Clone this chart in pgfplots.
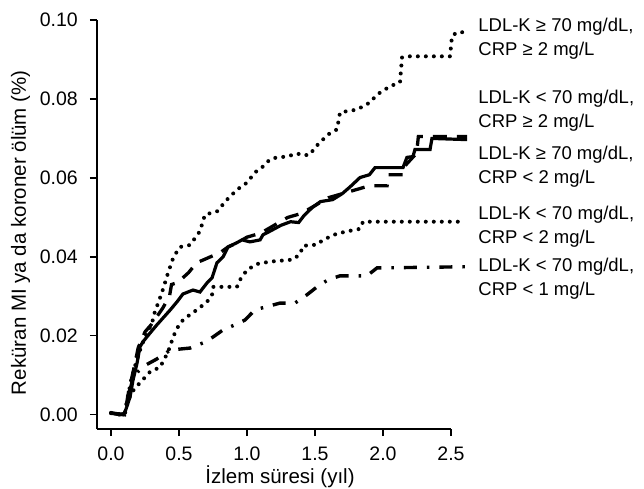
\documentclass[border=0pt]{standalone}
\usepackage{fontspec}
\setmainfont{Liberation Sans}
\usepackage{pgfplots}
\pgfplotsset{compat=1.18}

\begin{document}
\begin{tikzpicture}
\fontsize{18.5bp}{24bp}\selectfont
\path[use as bounding box] (-97bp,-60bp) rectangle (547bp,429bp);
\begin{axis}[
  scale only axis,
  width=354bp, height=409bp,
  xmin=-0.103, xmax=2.5,
  ymin=-0.0036, ymax=0.10,
  clip=false,
  axis x line*=bottom,
  axis y line*=left,
  axis line style={line width=1.3bp},
  every tick/.style={line width=1.3bp, black},
  tick align=outside,
  major tick length=7bp,
  xtick={0,0.5,1,1.5,2,2.5},
  ytick={0,0.02,0.04,0.06,0.08,0.1},
  /pgf/number format/assume math mode=true,
  tick label style={font=\fontsize{19.5bp}{22bp}\selectfont, inner sep=0pt},
  xticklabel style={anchor=north, yshift=-11bp, /pgf/number format/.cd, fixed, fixed zerofill, precision=1},
  yticklabel style={anchor=east, xshift=-12bp, /pgf/number format/.cd, fixed, fixed zerofill, precision=2},
  label style={font=\fontsize{20.5bp}{24bp}\selectfont, inner sep=0pt},
  xlabel={İzlem süresi (yıl)},
  ylabel={Reküran MI ya da koroner ölüm (\%)},
  xlabel style={at={([yshift=-54bp]axis description cs:0.517,0)}, anchor=base},
  ylabel style={at={([xshift=-71bp]axis description cs:0,0.48)}, anchor=base},
  dotline/.style={black, line width=4bp, line cap=round, dash pattern=on 0bp off 8bp},
]
% LDL-K >= 70, CRP >= 2
\addplot[dotline] coordinates {
(0.00,0.0005) (0.07,0.0000) (0.10,0.0002) (0.12,0.004) (0.15,0.009) (0.19,0.014)
(0.23,0.018) (0.27,0.021) (0.30,0.023) (0.32,0.0258) (0.375,0.031) (0.42,0.036)
(0.46,0.0400) (0.507,0.0425) (0.581,0.0430) (0.654,0.0465) (0.691,0.0507)
(0.779,0.0515) (0.853,0.0545) (0.926,0.0570) (1.000,0.0588) (1.059,0.0614)
(1.118,0.0629) (1.169,0.0647) (1.221,0.0652) (1.294,0.0654) (1.368,0.0662)
(1.412,0.0657) (1.463,0.0659) (1.50,0.0677) (1.537,0.0690) (1.596,0.0710)
(1.662,0.0723) (1.684,0.0766) (1.809,0.0773) (1.904,0.0791) (1.956,0.0811)
(2.051,0.0832) (2.125,0.0842) (2.140,0.0905) (2.176,0.0908) (2.493,0.0908)
(2.507,0.0959) (2.544,0.0969) (2.603,0.0969)
};
% LDL-K < 70, CRP >= 2
\addplot[black, line width=3.2bp] coordinates {
(0.007,0.0004) (0.066,0.0000) (0.10,0.0004) (0.14,0.0045) (0.162,0.0088)
(0.191,0.013) (0.213,0.0172) (0.235,0.0185) (0.287,0.0207) (0.338,0.0228)
(0.382,0.0245) (0.434,0.0265) (0.485,0.0286) (0.529,0.0306) (0.603,0.0316)
(0.654,0.0311) (0.706,0.0334) (0.743,0.0347) (0.779,0.0385) (0.824,0.0400)
(0.86,0.0425) (0.926,0.0436) (0.963,0.0443) (1.022,0.0438) (1.096,0.0443)
(1.118,0.0456) (1.169,0.0465) (1.25,0.0480) (1.32,0.0489) (1.38,0.0487)
(1.42,0.0505) (1.48,0.0525) (1.54,0.0540) (1.63,0.0545) (1.70,0.0560)
(1.76,0.0578) (1.831,0.0601) (1.90,0.0608) (1.941,0.0626) (2.147,0.0626)
(2.176,0.0652) (2.22,0.0654) (2.235,0.0672) (2.346,0.0672) (2.36,0.0700)
(2.618,0.0697)
};
% LDL-K >= 70, CRP < 2
\addplot[black, line width=3.3bp, dash pattern=on 14bp off 10bp] coordinates {
(0.00,0.0005) (0.10,0.0000) (0.13,0.006) (0.17,0.012) (0.20,0.017) (0.25,0.021)
(0.30,0.023) (0.38,0.027) (0.43,0.030) (0.445,0.033) (0.49,0.0335) (0.57,0.036)
(0.63,0.0385) (0.73,0.0400) (0.80,0.0410) (0.86,0.0425) (0.93,0.0436)
(1.00,0.0450) (1.10,0.0460) (1.20,0.0480) (1.30,0.0500) (1.40,0.0510)
(1.50,0.0530) (1.60,0.0550) (1.70,0.0560) (1.80,0.0570) (1.90,0.0580)
(2.03,0.0580) (2.04,0.0608) (2.147,0.0608) (2.16,0.0630) (2.24,0.0660)
(2.25,0.0672) (2.26,0.0705) (2.618,0.0705)
};
% LDL-K < 70, CRP < 2
\addplot[dotline] coordinates {
(0.00,0.0004) (0.10,0.0000) (0.13,0.004) (0.16,0.006) (0.21,0.008) (0.29,0.011)
(0.36,0.012) (0.40,0.0146) (0.434,0.0172) (0.456,0.0197) (0.507,0.0233)
(0.559,0.0248) (0.632,0.0266) (0.706,0.0286) (0.743,0.0304) (0.75,0.0324)
(0.926,0.0324) (0.949,0.0342) (1.000,0.0367) (1.074,0.0382) (1.169,0.0388)
(1.338,0.0393) (1.39,0.0407) (1.412,0.0428) (1.515,0.0431) (1.559,0.0443)
(1.662,0.0459) (1.757,0.0466) (1.831,0.0471) (1.853,0.0489) (2.603,0.0489)
};
% LDL-K < 70, CRP < 1
\addplot[black, line width=3.4bp, dash pattern=on 13bp off 10bp on 2.5bp off 10bp] coordinates {
(0.00,0.0004) (0.10,0.0000) (0.13,0.005) (0.16,0.009) (0.20,0.011) (0.25,0.0125)
(0.33,0.014) (0.40,0.0155) (0.434,0.0164) (0.581,0.0169) (0.676,0.0182)
(0.75,0.0197) (0.824,0.0215) (0.926,0.0230) (0.985,0.0240) (1.059,0.0266)
(1.169,0.0276) (1.243,0.0283) (1.353,0.0283) (1.441,0.0304) (1.515,0.0324)
(1.596,0.0342) (1.684,0.0352) (1.882,0.0352) (1.956,0.0372) (2.618,0.0375)
};
\node[anchor=west, align=left, inner sep=0pt] at (axis cs:2.70,0.0953) {LDL-K ≥ 70 mg/dL,\\CRP ≥ 2 mg/L};
\node[anchor=west, align=left, inner sep=0pt] at (axis cs:2.70,0.0770) {LDL-K < 70 mg/dL,\\CRP ≥ 2 mg/L};
\node[anchor=west, align=left, inner sep=0pt] at (axis cs:2.70,0.0628) {LDL-K ≥ 70 mg/dL,\\CRP < 2 mg/L};
\node[anchor=west, align=left, inner sep=0pt] at (axis cs:2.70,0.0477) {LDL-K < 70 mg/dL,\\CRP < 2 mg/L};
\node[anchor=west, align=left, inner sep=0pt] at (axis cs:2.70,0.0345) {LDL-K < 70 mg/dL,\\CRP < 1 mg/L};
\end{axis}
\end{tikzpicture}
\end{document}
